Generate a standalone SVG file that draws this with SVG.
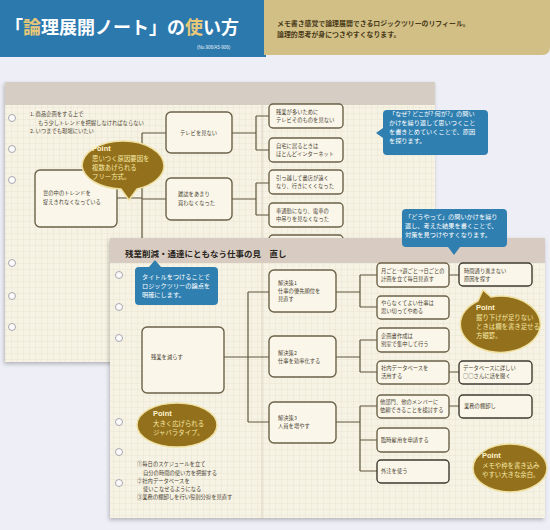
<svg xmlns="http://www.w3.org/2000/svg" width="550" height="530" viewBox="0 0 550 530">
<defs>
<pattern id="grid" width="6" height="6" patternUnits="userSpaceOnUse">
<rect width="6" height="6" fill="#f7f3e4"/>
<path d="M6 0V6H0" fill="none" stroke="#e2dcc8" stroke-width="0.6"/>
</pattern>
<filter id="sh" x="-5%" y="-5%" width="110%" height="110%"><feDropShadow dx="-1" dy="2" stdDeviation="2" flood-color="#000" flood-opacity="0.25"/></filter>
</defs>
<style>
.j{font-family:"Noto Sans CJK JP","Noto Sans",sans-serif}
.bx{fill:#faf7ea;stroke:#6b6148;stroke-width:1.4}
.bd{fill:#faf7ea;stroke:#3e3a30;stroke-width:1.4}
.t{font-family:"Noto Sans CJK JP",sans-serif;font-size:5.3px;fill:#4a4233}
.ln{stroke:#5e553c;stroke-width:1.2;fill:none}
.pt{fill:#93701b;stroke:#efe0a0;stroke-width:1.5}
.ptt{font-family:"Noto Sans CJK JP",sans-serif;font-size:6.4px;fill:#f6e9a6}
.pth{font-family:"Liberation Sans",sans-serif;font-size:7.5px;font-weight:bold;fill:#fff6d0}
.bl{fill:#2f7fb1}
.blt{font-family:"Noto Sans CJK JP",sans-serif;font-size:6.2px;fill:#ffffff}
.hole{fill:#fbfbfb;stroke:#a8a8b0;stroke-width:1}
</style>
<rect width="550" height="530" fill="#eeeff6"/>
<!-- header -->
<g id="header">
<rect x="0" y="0" width="266" height="57" fill="#2c79ae"/>
<path d="M264 0H550V47Q550 55 542 55H264Z" fill="#d1bf86"/>
<text x="5" y="34" class="j" font-size="18" font-weight="bold" fill="#ffffff">「<tspan fill="#e8c878">論</tspan>理展開ノート」の<tspan fill="#e8c878">使</tspan>い方</text>
<text x="197" y="49" font-family="Liberation Sans,sans-serif" font-size="4.5" fill="#e8eef5">(No.906/A5-906)</text>
<text x="277" y="26" class="j" font-size="6.9" font-weight="bold" fill="#4a3a18">メモ書き感覚で論理展開できるロジックツリーのリフィール。</text>
<text x="277" y="37" class="j" font-size="6.9" font-weight="bold" fill="#4a3a18">論理的思考が身につきやすくなります。</text>
</g>
<!-- back page -->
<g id="backpage">
<rect x="5" y="82" width="430" height="280" fill="url(#grid)" filter="url(#sh)"/>
<rect x="5" y="82" width="430" height="23" fill="#d6cdc4"/>
<line x1="262" y1="105" x2="262" y2="362" stroke="#d8d2c0" stroke-width="1"/>
<circle class="hole" cx="12" cy="118" r="3.5"/><circle class="hole" cx="12" cy="149" r="3.5"/><circle class="hole" cx="12" cy="180" r="3.5"/>
<circle class="hole" cx="12" cy="263" r="3.5"/><circle class="hole" cx="12" cy="296" r="3.5"/><circle class="hole" cx="12" cy="327" r="3.5"/>
<text class="t" x="30" y="116">1. 商品企画をする上で</text>
<text class="t" x="38" y="125">もう少しトレンドを把握しなければならない</text>
<text class="t" x="30" y="133">2. いつまでも現場にいたい</text>
</g>
<g id="back-connectors">
<path class="ln" d="M117 198H142M142 133V240M142 133H166M142 199H166M232 133H256M256 116V150M256 116H269M256 150H269M232 199H256M256 183V215M256 183H269M256 215H269"/>
</g>
<g id="b-root"><rect class="bx" x="35" y="170" width="82" height="57" rx="5"/><text class="t" x="43" y="195">世の中のトレンドを</text><text class="t" x="43" y="204">捉えきれなくなっている</text></g>
<g id="b-tv"><rect class="bx" x="166" y="112" width="66" height="41" rx="5"/><text class="t" x="180" y="135">テレビを見ない</text></g>
<g id="b-mag"><rect class="bx" x="166" y="178" width="66" height="42" rx="5"/><text class="t" x="178" y="196">雑誌をあまり</text><text class="t" x="178" y="205">買わなくなった</text></g>
<g id="b-l3a"><rect class="bx" x="269" y="104" width="74" height="24" rx="4"/><text class="t" x="276" y="114">残業が多いために</text><text class="t" x="276" y="122">テレビそのものを見ない</text></g>
<g id="b-l3b"><rect class="bx" x="269" y="138" width="74" height="24" rx="4"/><text class="t" x="276" y="148">自宅に居るときは</text><text class="t" x="276" y="156">ほとんどインターネット</text></g>
<g id="b-l3c"><rect class="bx" x="269" y="170" width="74" height="24" rx="4"/><text class="t" x="276" y="180">引っ越して書店が遠く</text><text class="t" x="276" y="188">なり、行きにくくなった</text></g>
<g id="b-l3d"><rect class="bx" x="269" y="203" width="74" height="24" rx="4"/><text class="t" x="276" y="213">車通勤になり、電車の</text><text class="t" x="276" y="221">中吊りを見なくなった</text></g>
<g id="b-l3e"><rect class="bx" x="269" y="235" width="74" height="24" rx="4"/></g>
<g id="b-point">
<path class="pt" d="M82 166A41 25 0 1 1 164 166A41 25 0 0 1 137 189L129 200L121 189A41 25 0 0 1 82 166Z"/>
<text class="pth" x="92" y="151">Point</text>
<text class="ptt" x="92" y="161" font-size="6.2px">思いつく原因要因を</text>
<text class="ptt" x="92" y="170" font-size="6.2px">複数あげられる</text>
<text class="ptt" x="92" y="179" font-size="6.2px">フリー方式。</text>
</g>
<g id="callout-why">
<path class="bl" d="M387 110H484Q488 110 488 114V151Q488 155 484 155H387Q383 155 383 151V138L376 133L383 128V114Q383 110 387 110Z"/>
<text class="blt" x="389" y="116">「なぜ? どこが? 何が?」の問い</text>
<text class="blt" x="389" y="125">かけを繰り返して思いつくこと</text>
<text class="blt" x="389" y="134">を書きとめていくことで、原因</text>
<text class="blt" x="389" y="143">を探ります。</text>
</g>
<!-- front page -->
<g id="frontpage">
<rect x="110" y="238" width="435" height="280" fill="url(#grid)" filter="url(#sh)"/>
<rect x="110" y="238" width="435" height="25" fill="#d8ccc2"/>
<line x1="262" y1="263" x2="262" y2="518" stroke="#d8d2c0" stroke-width="1"/>
<text x="125" y="257" class="j" font-size="8.5" font-weight="bold" fill="#2a2520">残業削減・通達にともなう仕事の見　直し</text>
<circle class="hole" cx="119" cy="275" r="3.5"/><circle class="hole" cx="119" cy="307" r="3.5"/><circle class="hole" cx="119" cy="338" r="3.5"/>
<circle class="hole" cx="119" cy="422" r="3.5"/><circle class="hole" cx="119" cy="452" r="3.5"/><circle class="hole" cx="119" cy="483" r="3.5"/>
<text class="t" x="137" y="466">①毎日のスケジュールを立て</text>
<text class="t" x="143" y="475">自分の時間の使い方を把握する</text>
<text class="t" x="137" y="483">②社内データベースを</text>
<text class="t" x="143" y="491">使いこなせるようになる</text>
<text class="t" x="137" y="499">③業務の棚卸しを行い役割分担を見直す</text>
</g>
<g id="front-connectors">
<path class="ln" d="M224 357H248M248 292V422M248 292H269M248 357H269M248 422H269M336 292H360M360 275V307M360 275H377M360 307H377M336 357H360M360 340V372M360 340H377M360 372H377M336 422H360M360 406V471M360 406H377M360 440H377M360 471H377M449 275H459M449 372H459M449 406H459"/>
</g>
<g id="f-root"><rect class="bx" x="142" y="327" width="82" height="66" rx="5"/><text class="t" x="151" y="359">残業を減らす</text></g>
<g id="f-sol1"><rect class="bx" x="269" y="270" width="67" height="42" rx="5"/><text class="t" x="278" y="285">解決策1</text><text class="t" x="278" y="293">仕事の優先順位を</text><text class="t" x="278" y="301">見直す</text></g>
<g id="f-sol2"><rect class="bx" x="269" y="336" width="67" height="41" rx="5"/><text class="t" x="278" y="355">解決策2</text><text class="t" x="278" y="363">仕事を効率化する</text></g>
<g id="f-sol3"><rect class="bx" x="269" y="402" width="67" height="41" rx="5"/><text class="t" x="278" y="420">解決策3</text><text class="t" x="278" y="428">人員を増やす</text></g>
<g id="f-a"><rect class="bx" x="377" y="263" width="72" height="24" rx="4"/><text class="t" x="381" y="273">月ごと→週ごと→日ごとの</text><text class="t" x="381" y="281">計画を立て毎日見直す</text></g>
<g id="f-b"><rect class="bx" x="377" y="296" width="72" height="23" rx="4"/><text class="t" x="381" y="305">やらなくてよい仕事は</text><text class="t" x="381" y="313">思い切ってやめる</text></g>
<g id="f-c"><rect class="bx" x="377" y="328" width="72" height="24" rx="4"/><text class="t" x="381" y="338">企画書作成は</text><text class="t" x="381" y="346">別室で集中して行う</text></g>
<g id="f-d"><rect class="bx" x="377" y="361" width="72" height="23" rx="4"/><text class="t" x="381" y="370">社内データベースを</text><text class="t" x="381" y="378">活用する</text></g>
<g id="f-g"><rect class="bx" x="377" y="395" width="72" height="23" rx="4"/><text class="t" x="380" y="404">他部門、他のメンバーに</text><text class="t" x="380" y="412">依頼できることを検討する</text></g>
<g id="f-i"><rect class="bx" x="377" y="428" width="72" height="24" rx="4"/><text class="t" x="381" y="442">臨時雇用を申請する</text></g>
<g id="f-j"><rect class="bd" x="377" y="460" width="72" height="23" rx="4"/><text class="t" x="381" y="473">外注を使う</text></g>
<g id="f-e"><rect class="bd" x="459" y="263" width="73" height="23" rx="4"/><text class="t" x="464" y="273">時間通り進まない</text><text class="t" x="464" y="281">原因を探す</text></g>
<g id="f-f"><rect class="bd" x="459" y="361" width="73" height="23" rx="4"/><text class="t" x="463" y="370">データベースに詳しい</text><text class="t" x="463" y="378">○○さんに話を聞く</text></g>
<g id="f-h"><rect class="bd" x="459" y="395" width="73" height="23" rx="4"/><text class="t" x="464" y="408">業務の棚卸し</text></g>
<g id="callout-title">
<path class="bl" d="M139 267H149L155 260L161 267H214Q218 267 218 271V301Q218 305 214 305H139Q135 305 135 301V271Q135 267 139 267Z"/>
<text class="blt" x="142" y="279">タイトルをつけることで</text>
<text class="blt" x="142" y="288">ロジックツリーの論点を</text>
<text class="blt" x="142" y="297">明確にします。</text>
</g>
<g id="callout-how">
<path class="bl" d="M406 209H503Q507 209 507 213V243Q507 247 503 247H460L454 255L448 247H406Q402 247 402 243V213Q402 209 406 209Z"/>
<text class="blt" x="405" y="219">「どうやって」の問いかけを繰り</text>
<text class="blt" x="405" y="228">返し、考えた結果を書くことで、</text>
<text class="blt" x="405" y="237">対策を見つけやすくなります。</text>
</g>
<g id="point-grid">
<path class="pt" d="M478 301L483 290L491 297A40 28 0 1 1 478 301Z"/>
<text class="pth" x="476" y="310">Point</text>
<text class="ptt" x="476" y="320" font-size="6px">掘り下げが足りない</text>
<text class="ptt" x="476" y="329" font-size="6px">ときは欄を書き足せる</text>
<text class="ptt" x="476" y="338" font-size="6px">方眼罫。</text>
</g>
<g id="point-jabara">
<ellipse class="pt" cx="177" cy="425" rx="40" ry="22"/>
<text class="pth" x="153" y="416">Point</text>
<text class="ptt" x="153" y="426">大きく広げられる</text>
<text class="ptt" x="153" y="435">ジャバラタイプ。</text>
</g>
<g id="point-margin">
<ellipse class="pt" cx="510" cy="468" rx="37" ry="24"/>
<text class="pth" x="482" y="458">Point</text>
<text class="ptt" x="482" y="468" font-size="6px">メモや枠を書き込み</text>
<text class="ptt" x="482" y="477" font-size="6px">やすい大きな余白。</text>
</g>
</svg>
